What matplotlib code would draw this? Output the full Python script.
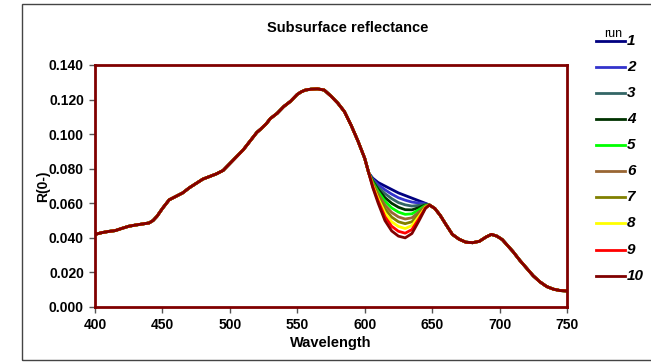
import numpy as np
import matplotlib.pyplot as plt
from matplotlib.lines import Line2D
from matplotlib.patches import Rectangle

plt.rcParams['font.family'] = ['Liberation Sans', 'DejaVu Sans']

# shared part of the spectrum, left of the split
wl_left = [400, 405, 410, 415, 420, 425, 430, 435, 440, 443, 446, 450, 455,
           460, 465, 470, 475, 480, 485, 490, 495, 500, 505, 510, 515, 520,
           523, 527, 530, 535, 540, 545, 550, 553, 556, 560, 565, 570, 575,
           580, 585, 590, 595, 600, 603]
r_left = [0.0420, 0.0430, 0.0437, 0.0442, 0.0455, 0.0467, 0.0474, 0.0480,
          0.0486, 0.0500, 0.0525, 0.0570, 0.0620, 0.0640, 0.0660, 0.0690,
          0.0715, 0.0740, 0.0755, 0.0770, 0.0790, 0.0830, 0.0870, 0.0910,
          0.0960, 0.1010, 0.1030, 0.1060, 0.1090, 0.1120, 0.1160, 0.1190,
          0.1230, 0.1245, 0.1255, 0.1260, 0.1262, 0.1255, 0.1220, 0.1180,
          0.1130, 0.1050, 0.0960, 0.0860, 0.0775]

# part where the runs differ
wl_mid = [606, 610, 615, 620, 625, 630, 635, 640, 645]
r_mid = {
    1:  [0.0745, 0.0720, 0.0700, 0.0680, 0.0660, 0.0645, 0.0630, 0.0615, 0.0600],
    2:  [0.0739, 0.0707, 0.0678, 0.0653, 0.0632, 0.0618, 0.0607, 0.0602, 0.0597],
    3:  [0.0733, 0.0693, 0.0656, 0.0627, 0.0604, 0.0591, 0.0584, 0.0588, 0.0593],
    4:  [0.0727, 0.0680, 0.0633, 0.0600, 0.0577, 0.0563, 0.0562, 0.0575, 0.0590],
    5:  [0.0721, 0.0667, 0.0611, 0.0573, 0.0549, 0.0536, 0.0539, 0.0562, 0.0587],
    6:  [0.0714, 0.0653, 0.0589, 0.0547, 0.0521, 0.0509, 0.0516, 0.0548, 0.0583],
    7:  [0.0708, 0.0640, 0.0567, 0.0520, 0.0493, 0.0482, 0.0493, 0.0535, 0.0580],
    8:  [0.0702, 0.0627, 0.0544, 0.0493, 0.0466, 0.0454, 0.0471, 0.0522, 0.0577],
    9:  [0.0696, 0.0613, 0.0522, 0.0467, 0.0438, 0.0427, 0.0448, 0.0508, 0.0573],
    10: [0.0690, 0.0600, 0.0500, 0.0440, 0.0410, 0.0400, 0.0425, 0.0495, 0.0570],
}

# shared part, right of the split
wl_right = [648, 652, 656, 660, 665, 670, 675, 680, 685, 690, 694, 698, 702,
            706, 710, 715, 720, 725, 730, 735, 740, 745, 750]
r_right = [0.0590, 0.0570, 0.0530, 0.0480, 0.0420, 0.0392, 0.0375, 0.0372,
           0.0380, 0.0405, 0.0420, 0.0410, 0.0390, 0.0355, 0.0320, 0.0270,
           0.0225, 0.0180, 0.0145, 0.0118, 0.0103, 0.0095, 0.0093]

runs = list(range(1, 11))
colors = ['#000080', '#3333CC', '#336666', '#003300', '#00FF00',
          '#996633', '#808000', '#FFFF00', '#FF0000', '#800000']

fig = plt.figure(figsize=(6.51, 3.64), dpi=100)
ax = fig.add_axes([95/651, 1 - 307/364, 472/651, 242/364])

wl = np.array(wl_left + wl_mid + wl_right)
for run, c in zip(runs, colors):
    r = np.array(r_left + r_mid[run] + r_right)
    ax.plot(wl, r, color=c, lw=2)

ax.set_xlim(400, 750)
ax.set_ylim(0, 0.14)
ax.set_xticks(range(400, 751, 50))
ax.set_yticks(np.arange(0, 0.141, 0.02))
ax.yaxis.set_major_formatter(plt.FormatStrFormatter('%.3f'))
for s in ax.spines.values():
    s.set_color('#800000')
    s.set_linewidth(2)
ax.tick_params(length=4, width=1, color='#555555', labelsize=10, pad=4)
for lab in ax.get_xticklabels() + ax.get_yticklabels():
    lab.set_fontweight('bold')

ax.set_xlabel('Wavelength', fontsize=10.5, fontweight='bold', labelpad=3)
fig.text(43/651, 1 - 186/364, 'R(0-)', rotation=90, fontsize=10,
         fontweight='bold', ha='center', va='center')
fig.text(348/651, 1 - 28/364, 'Subsurface reflectance', fontsize=10.5,
         fontweight='bold', ha='center', va='center')

# legend drawn by hand
fig.text(613/651, 1 - 34/364, 'run', fontsize=9, ha='center', va='center')
for i, (run, c) in enumerate(zip(runs, colors)):
    y = 1 - (40.7 + 26.1 * i) / 364
    fig.add_artist(Line2D([596/651, 625/651], [y, y], color=c, lw=2))
    fig.text(627/651, y, str(run), fontsize=11, fontweight='bold',
             fontstyle='italic', va='center', ha='left')

# outer chart frame
fig.add_artist(Rectangle((22/651, 4/364), 1, 356/364, fill=False,
                         edgecolor='#444444', lw=1, transform=fig.transFigure))

fig.savefig('out.png', dpi=100)
